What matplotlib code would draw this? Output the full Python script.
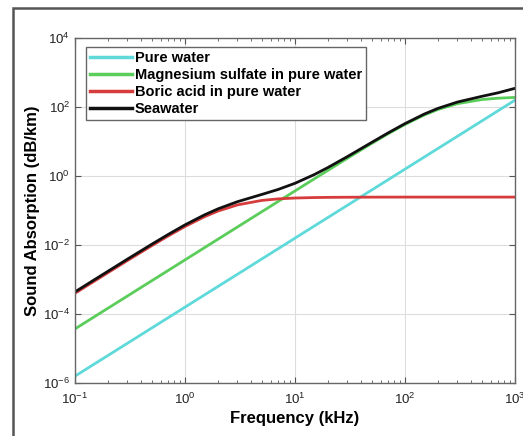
import matplotlib
matplotlib.use('Agg')
import matplotlib.pyplot as plt
from matplotlib.patches import Rectangle
from matplotlib.ticker import LogLocator, NullFormatter

# frequency grid (kHz) and absorption values (dB/km)
freq = [0.1, 0.15, 0.2, 0.3, 0.5, 0.7, 1, 1.5, 2, 3, 5, 7, 10, 15, 20, 30,
        50, 70, 100, 150, 200, 300, 500, 700, 1000]

pure_water = [1.58e-6, 3.56e-6, 6.32e-6, 1.42e-5, 3.95e-5, 7.74e-5, 1.58e-4,
              3.56e-4, 6.32e-4, 1.42e-3, 3.95e-3, 7.74e-3, 0.0158, 0.0356,
              0.0632, 0.142, 0.395, 0.774, 1.58, 3.56, 6.32, 14.2, 39.5,
              77.4, 158]

mgso4 = [3.7e-5, 8.33e-5, 1.48e-4, 3.33e-4, 9.25e-4, 1.81e-3, 3.7e-3, 8.33e-3,
         0.0148, 0.0333, 0.0925, 0.181, 0.369, 0.830, 1.469, 3.275, 8.84,
         16.62, 31.2, 58.8, 85.0, 124.9, 164.3, 180.0, 189.5]

boric = [3.99e-4, 8.97e-4, 1.59e-3, 3.55e-3, 9.61e-3, 0.01814, 0.0344, 0.0657,
         0.0966, 0.1455, 0.196, 0.217, 0.230, 0.2375, 0.2402, 0.2424, 0.2438,
         0.2443, 0.2445, 0.2446, 0.2446, 0.2446, 0.2446, 0.2446, 0.2446]

seawater = [4.38e-4, 9.84e-4, 1.744e-3, 3.90e-3, 0.01057, 0.02003, 0.0383,
            0.0744, 0.1120, 0.1802, 0.2925, 0.4057, 0.615, 1.103, 1.772, 3.66,
            9.48, 17.64, 33.0, 62.6, 91.6, 139.3, 204.0, 257.6, 347.7]

labels = ['Pure water', 'Magnesium sulfate in pure water',
          'Boric acid in pure water', 'Seawater']
colors = ['#5fd9d9', '#5acd5a', '#d63c3c', '#111111']

plt.rcParams['font.family'] = ['Liberation Sans', 'DejaVu Sans']

fig = plt.figure(figsize=(5.23, 4.36), dpi=100)
ax = fig.add_axes([75/523, 1-383/436, 440/523, 345/436])

for y, lab, c in zip([pure_water, mgso4, boric, seawater], labels, colors):
    ax.plot(freq, y, color=c, lw=2.0, label=lab)

ax.set_xscale('log')
ax.set_yscale('log')
ax.set_xlim(0.1, 1000)
ax.set_ylim(1e-6, 1e4)
ax.set_yticks([1e-6, 1e-4, 1e-2, 1e0, 1e2, 1e4])
ax.yaxis.set_minor_locator(LogLocator(base=10, subs=[]))
ax.xaxis.set_minor_locator(LogLocator(base=10, subs=range(2, 10)))
ax.xaxis.set_minor_formatter(NullFormatter())

ax.grid(True, which='major', color='#dddddd', lw=0.8)
ax.tick_params(which='both', direction='in', top=True, right=True,
               colors='#555555', labelcolor='#222222', labelsize=9.5)
ax.tick_params(axis='x', which='major', pad=6)
ax.tick_params(which='major', length=4)
ax.tick_params(which='minor', length=2)
for s in ax.spines.values():
    s.set_color('#666666')
    s.set_linewidth(1.0)

ax.set_xlabel('Frequency (kHz)', fontsize=12, fontweight='bold', labelpad=3)
ax.set_ylabel('Sound Absorption (dB/km)', fontsize=12, fontweight='bold', labelpad=2)

leg = ax.legend(loc='upper left', bbox_to_anchor=(0.025, 0.975), borderaxespad=0,
                fontsize=10.5, handlelength=2.85, handletextpad=0.2,
                labelspacing=0.2, borderpad=0.3, fancybox=False, framealpha=1)
leg.get_frame().set_edgecolor('#666666')
leg.get_frame().set_linewidth(1.0)
for t in leg.get_texts():
    t.set_fontweight('bold')
for h in leg.get_lines():
    h.set_linewidth(2.5)

# outer frame of the figure (cropped on right and bottom)
fig.patches.append(Rectangle((13/523, -0.1), 1.2, 1.1 - 8/436,
                             transform=fig.transFigure, fill=False,
                             edgecolor='#555555', lw=1.8))

fig.savefig('out.png', dpi=100)
